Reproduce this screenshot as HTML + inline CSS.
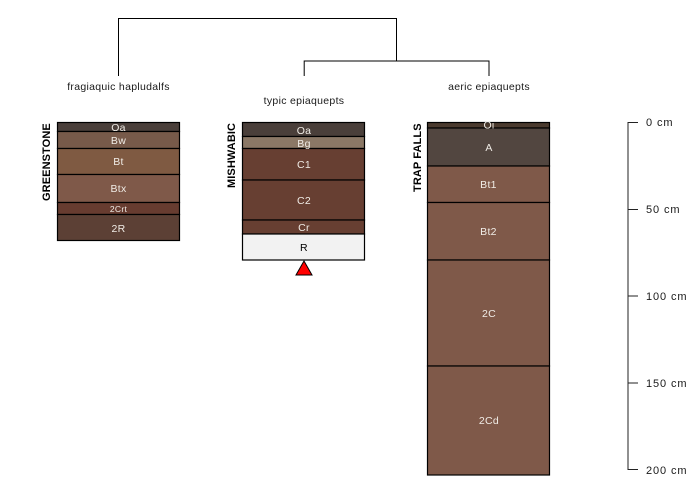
<!DOCTYPE html>
<html>
<head>
<meta charset="utf-8">
<style>
html,body{margin:0;padding:0;background:#fff;width:700px;height:500px;overflow:hidden}
svg{display:block}
text{font-family:"Liberation Sans",sans-serif;font-size:10.5px;letter-spacing:.3px}
.c{text-anchor:middle;fill:#f0ece6}
.n{text-anchor:middle;fill:#1a1a1a}
.p{font-weight:bold;font-size:11px;letter-spacing:.1px;fill:#000;text-anchor:start}
.a{font-size:11px;letter-spacing:.9px}
.h rect{stroke:#000;stroke-width:1.2}
</style>
</head>
<body>
<svg width="700" height="500" viewBox="0 0 700 500" xmlns="http://www.w3.org/2000/svg">
<!-- dendrogram -->
<g fill="none" stroke="#000" stroke-width="1">
<path d="M118.5 76V18.5H396.5V61"/>
<path d="M304.2 76V61H489V76"/>
</g>
<text class="n" x="118.5" y="90">fragiaquic hapludalfs</text>
<text class="n" x="304" y="104">typic epiaquepts</text>
<text class="n" x="489" y="90">aeric epiaquepts</text>

<!-- GREENSTONE -->
<g class="h">
<rect x="57.5" y="122.5" width="122" height="9" fill="#4a3f3a"/>
<rect x="57.5" y="131.5" width="122" height="17" fill="#775a4a"/>
<rect x="57.5" y="148.5" width="122" height="26" fill="#7f5a42"/>
<rect x="57.5" y="174.5" width="122" height="28" fill="#7f5949"/>
<rect x="57.5" y="202.5" width="122" height="12" fill="#673c30"/>
<rect x="57.5" y="214.5" width="122" height="26" fill="#5c4035"/>
</g>
<text class="c" x="118.5" y="131">Oa</text>
<text class="c" x="118.5" y="144">Bw</text>
<text class="c" x="118.5" y="165">Bt</text>
<text class="c" x="118.5" y="192">Btx</text>
<text class="c" x="118.5" y="212" style="font-size:8.500px">2Crt</text>
<text class="c" x="118.5" y="232">2R</text>
<text class="p" transform="translate(50,201) rotate(-90)">GREENSTONE</text>

<!-- MISHWABIC -->
<g class="h">
<rect x="242.5" y="122.5" width="122" height="14" fill="#4a3f3a"/>
<rect x="242.5" y="136.5" width="122" height="12" fill="#8b7866"/>
<rect x="242.5" y="148.5" width="122" height="31.5" fill="#673f32"/>
<rect x="242.5" y="180" width="122" height="40" fill="#673f32"/>
<rect x="242.5" y="220" width="122" height="14" fill="#673f32"/>
<rect x="242.5" y="234" width="122" height="26" fill="#f2f2f2"/>
</g>
<text class="c" x="304" y="134">Oa</text>
<text class="c" x="304" y="147">Bg</text>
<text class="c" x="304" y="168">C1</text>
<text class="c" x="304" y="204">C2</text>
<text class="c" x="304" y="231">Cr</text>
<text class="n" x="304" y="251" style="fill:#000">R</text>
<polygon points="304,261 312,275 296,275" fill="#f00" stroke="#000" stroke-width="1"/>
<text class="p" transform="translate(235,188) rotate(-90)">MISHWABIC</text>

<!-- TRAP FALLS -->
<g class="h">
<rect x="427.5" y="122.5" width="122" height="5.5" fill="#4a3a2e"/>
<rect x="427.5" y="128" width="122" height="38" fill="#524640"/>
<rect x="427.5" y="166" width="122" height="36.5" fill="#7f5949"/>
<rect x="427.5" y="202.5" width="122" height="57.5" fill="#7f5949"/>
<rect x="427.5" y="260" width="122" height="106" fill="#7f5949"/>
<rect x="427.5" y="366" width="122" height="109" fill="#7f5949"/>
</g>
<text class="c" x="489" y="128.5">Oi</text>
<text class="c" x="489" y="151">A</text>
<text class="c" x="488.5" y="188">Bt1</text>
<text class="c" x="488.5" y="235">Bt2</text>
<text class="c" x="489" y="317">2C</text>
<text class="c" x="489" y="424">2Cd</text>
<text class="p" transform="translate(421,192) rotate(-90)">TRAP FALLS</text>

<!-- depth axis -->
<path d="M638 122.5H628V469.5H638M628 209.5H638M628 296H638M628 383H638" fill="none" stroke="#222" stroke-width="1"/>
<g fill="#1a1a1a">
<text class="a" x="646" y="126">0 cm</text>
<text class="a" x="646" y="213">50 cm</text>
<text class="a" x="646" y="300">100 cm</text>
<text class="a" x="646" y="387">150 cm</text>
<text class="a" x="646" y="474">200 cm</text>
</g>
</svg>
</body>
</html>
